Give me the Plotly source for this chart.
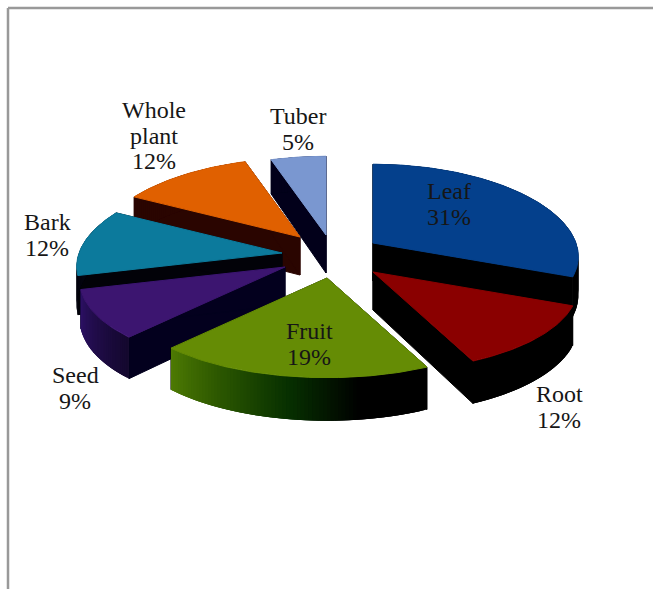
import math
import plotly.graph_objects as go

# --- data ---
categories = ["Leaf", "Root", "Fruit", "Seed", "Bark", "Whole plant", "Tuber"]
values = [31, 12, 19, 9, 12, 12, 5]
label_lines = [["Leaf"], ["Root"], ["Fruit"], ["Seed"], ["Bark"], ["Whole", "plant"], ["Tuber"]]

# --- styles ---
top_colors = ["#04408c", "#8a0000", "#658c05", "#3c1570", "#0c7a9c", "#e06000", "#7a97d0"]
cut_colors = ["#000000", "#000000", "#000000", "#03001e", "#020208", "#2a0500", "#02001a"]
outer_stops = [
    ["#000000"], ["#000000"],
    ["#000000", "#000000", "#073000", "#2a5500", "#4e7a04"],
    ["#14082e", "#2e1266"],
    ["#04040e"], ["#2a0500"], ["#02001a"],
]
# explosion of each slice (pull), and where its text sits
pull_anchor = [(373, 243), (373, 272), (327, 278), (285, 267), (282, 253), (300, 237), (326, 235)]
label_anchor = [(449, 191), (559, 394), (309, 331), (75, 375), (47, 222), (154, 110), (298, 116)]
draw_order = [6, 5, 0, 4, 1, 3, 2]
RX, RY, PERSP_X, PERSP_Y, DEPTH = 203, 88, 0.15, 0.117, 38
LINE_GAP = 25.5
FONT = dict(family="Liberation Serif", size=24, color="#161616")
total = sum(values)


def project(theta, anchor, drop=0.0):
    """Rim point at clockwise angle theta (radians from top), perspective view."""
    c = math.cos(theta)
    sx = 1 / (1 + PERSP_X * c)
    sy = 1 / (1 + PERSP_Y * c)
    return (anchor[0] + RX * math.sin(theta) * sx,
            anchor[1] - RY * c * sy + drop * DEPTH * sy)


def hex_rgb(c):
    return [int(c[i:i + 2], 16) for i in (1, 3, 5)]


def stop_color(stops, f):
    if len(stops) == 1:
        return stops[0]
    p = f * (len(stops) - 1)
    i = min(int(p), len(stops) - 2)
    a, b = hex_rgb(stops[i]), hex_rgb(stops[i + 1])
    t = p - i
    return "rgb(%d,%d,%d)" % tuple(a[k] + (b[k] - a[k]) * t for k in range(3))


def poly(fig, pts, color, name, width=1.0):
    fig.add_trace(go.Scatter(
        x=[p[0] for p in pts] + [pts[0][0]],
        y=[p[1] for p in pts] + [pts[0][1]],
        mode="lines", fill="toself", fillcolor=color,
        line=dict(color=color, width=width), hoverinfo="skip",
        name=name, showlegend=False))


fig = go.Figure()
starts, acc = [], 0
for v in values:
    starts.append(acc)
    acc += v

for i in draw_order:
    a = pull_anchor[i]
    t0 = starts[i] / total * 2 * math.pi
    t1 = (starts[i] + values[i]) / total * 2 * math.pi
    n = max(6, int(values[i] * 4))
    ts = [t0 + (t1 - t0) * k / n for k in range(n + 1)]
    # cut walls
    for t in (t0, t1):
        poly(fig, [a, project(t, a), project(t, a, 1), (a[0], a[1] + DEPTH)], cut_colors[i], categories[i])
    # outer wall: every strip runs under the next one so no seams show
    for k in range(n):
        end = ts[min(k + 3, n)]
        mid = ts[min(k + 2, n)]
        col = stop_color(outer_stops[i], (k + 0.5) / n)
        poly(fig, [project(ts[k], a), project(ts[k + 1], a), project(mid, a), project(end, a),
                   project(end, a, 1), project(mid, a, 1), project(ts[k + 1], a, 1), project(ts[k], a, 1)],
             col, categories[i], 0)
    # top face
    poly(fig, [a] + [project(t, a) for t in ts], top_colors[i], categories[i])

annotations = []
for i, lines in enumerate(label_lines):
    x, y = label_anchor[i]
    for j, txt in enumerate(lines + [f"{values[i]}%"]):
        annotations.append(dict(x=x, y=y + j * LINE_GAP, text=txt, showarrow=False,
                                xref="x", yref="y", font=FONT,
                                xanchor="center", yanchor="middle"))

frame = dict(color="#999999", width=2.5)
shapes = [
    dict(type="line", xref="paper", yref="paper", x0=8 / 653, x1=1, y0=1 - 8 / 589, y1=1 - 8 / 589, line=frame),
    dict(type="line", xref="paper", yref="paper", x0=8 / 653, x1=8 / 653, y0=0, y1=1 - 8 / 589, line=frame),
]

fig.update_layout(
    width=653, height=589, margin=dict(l=0, r=0, t=0, b=0),
    paper_bgcolor="white", plot_bgcolor="white",
    xaxis=dict(range=[0, 653], visible=False, fixedrange=True),
    yaxis=dict(range=[589, 0], visible=False, fixedrange=True),
    showlegend=False, annotations=annotations, shapes=shapes,
)
fig.write_html("out.html", config=dict(displayModeBar=False),
               post_script="document.body.style.margin='0';")
